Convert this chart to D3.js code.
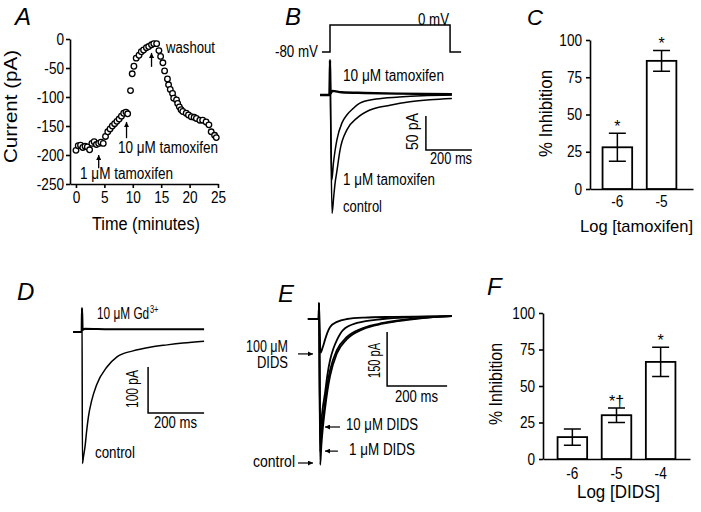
<!DOCTYPE html>
<html><head><meta charset="utf-8">
<script src="https://cdn.jsdelivr.net/npm/d3@7"></script>
<style>
html,body{margin:0;padding:0;background:#fff;}
svg{display:block;}
text{font-family:"Liberation Sans",Arial,Helvetica,sans-serif;fill:#000;}
</style></head><body>
<svg id="fig" width="701" height="512"></svg>
<script>
// ---------------- DATA ----------------
// Panel A: current vs time
const timeMin = [0,0.4,0.8,1.2,1.6,2.0,2.4,2.8,3.2,3.6,4.0,4.4,4.8,5.2,5.6,6.0,6.4,6.8,7.2,7.6,8.0,8.4,8.8,9.1,9.6,9.9,10.2,10.6,11.1,11.5,11.9,12.4,12.8,13.3,13.7,14.2,14.6,14.9,15.3,15.6,16.1,16.3,16.6,17.0,17.2,17.7,17.9,18.2,18.5,18.8,19.4,19.8,20.3,20.8,21.2,21.8,22.3,22.9,23.4,23.8,24.4,24.7];
const currentPA = [-192,-184,-183,-187,-185,-186,-191,-180,-177,-182,-180,-178,-180,-168,-160,-155,-150,-146,-142,-138,-133,-128,-126,-129,-89,-60,-47,-33,-28,-22,-19,-15,-13,-10,-8,-8,-20,-30,-41,-55,-69,-79,-87,-94,-102,-105,-111,-117,-122,-125,-128,-131,-134,-135,-137,-140,-140,-143,-148,-160,-166,-170];
const aXTicks = [0,5,10,15,20,25];
const aYTicks = [0,-50,-100,-150,-200,-250];
// arrows in A: [time, tail pA, head pA]
const aArrows = [[4.0,-223,-200],[8.9,-171,-143],[13.3,-48,-24]];

// Panel B: voltage step [ms, mV] and currents [ms, pA]
const bStep = [[-35,-80],[0,-80],[0,0],[522,0],[522,-80],[570,-80]];
const bControl = [[-43,0],[-2,0],[0,51],[3,-40],[9,-174],[16,-150],[22,-130],[30,-112],[43,-82],[74,-51],[117,-34],[174,-22],[261,-15],[348,-10],[435,-7],[530,-5]];
const bTam1 = [[-43,0],[-2,0],[0,51],[3,-30],[8,-125],[15,-100],[22,-82],[30,-66],[52,-41],[74,-29],[100,-20],[130,-12],[200,-6],[300,-3],[400,-1],[530,0]];
const bTam10 = [[-43,0],[-2,0],[0,51],[2,2],[10,6],[50,4],[150,3],[300,2],[530,1]];

// Panel C
const tamoxLog = ["-6","-5"];
const tamoxInhib = [28,86];
const tamoxErr = [9.4,7];
const tamoxSig = ["*","*"];
const pctTicks = [0,25,50,75,100];

// Panel D
const dControl = [[-32,0],[-1,0],[0,52],[1.5,-286],[5,-272],[11,-248],[17,-213],[23,-184],[35,-148],[52,-115],[89,-76],[125,-54],[182,-41],[243,-33],[304,-28],[361,-24],[436,-20]];
const dGd = [[-32,0],[-1,0],[0,52],[2,5],[10,7],[100,6],[250,6],[436,6]];

// Panel E
const eControl = [[-37,0],[-1,0],[0,44],[4,-405],[8,-350],[12,-310],[20,-250],[28,-200],[37,-158],[60,-95],[93,-56],[147,-28],[213,-13],[303,-2],[380,5],[443,8]];
const eDids1 = [[-37,0],[-1,0],[0,44],[4,-369],[8,-320],[12,-285],[20,-233],[28,-180],[37,-142],[60,-86],[93,-50],[147,-25],[213,-11],[303,0],[380,5],[443,8]];
const eDids10 = [[-37,0],[-1,0],[0,44],[4,-314],[8,-280],[12,-250],[20,-206],[28,-155],[37,-114],[48,-82],[60,-58],[80,-31],[127,-11],[213,0],[300,5],[443,8]];
const eDids100 = [[-37,0],[-1,0],[0,44],[5,-94],[12,-80],[20,-58],[28,-38],[37,-22],[60,-8],[93,0],[150,4],[250,6],[443,8]];
// arrows in E: [tail ms, head ms, pA]
const eArrows = [[-70,-20,-97],[-70,-20,-400],[70,20,-300],[63,20,-367]];

// Panel F
const didsLog = ["-6","-5","-4"];
const didsInhib = [15,30,66.5];
const didsErr = [5.5,5,10];
const didsSig = ["","*\u2020","*"];

// ---------------- HELPERS ----------------
const svg = d3.select("#fig");
svg.append("rect").attr("width",701).attr("height",512).attr("fill","#fff");
const defs = svg.append("defs");
defs.append("marker").attr("id","ah").attr("viewBox","0 0 10 10")
  .attr("refX",10).attr("refY",5).attr("markerWidth",6).attr("markerHeight",5)
  .attr("markerUnits","userSpaceOnUse").attr("orient","auto")
  .append("path").attr("d","M0,0L10,5L0,10z").attr("fill","#000");

function label(str, x, y, o={}) {
  const t = svg.append("text").attr("x",x).attr("y",y)
    .attr("font-size", o.size||16).text(str);
  if (o.len) t.attr("textLength",o.len).attr("lengthAdjust","spacingAndGlyphs");
  if (o.anchor) t.attr("text-anchor",o.anchor);
  if (o.italic) t.attr("font-style","italic");
  return t;
}
function vlabel(str, bx, y0, o={}) {
  const t = svg.append("text").attr("transform",`translate(${bx},${y0}) rotate(-90)`)
    .attr("font-size", o.size||16).text(str);
  if (o.len) t.attr("textLength",o.len).attr("lengthAdjust","spacingAndGlyphs");
  return t;
}
const SX = 0.85;
function styleAxis(g) {
  g.attr("font-size",null).attr("font-family",null);
  g.selectAll("path,line").attr("stroke","#000").attr("stroke-width",1.6);
  g.selectAll("text").attr("font-size",16).attr("fill","#000").each(function(){
    const t = d3.select(this);
    const x = +t.attr("x") || 0;
    t.attr("x", x/SX).attr("transform",`scale(${SX},1)`);
  });
}
const fmt = d => String(d);

// ---------------- PANEL A ----------------
const xA = d3.scaleLinear().domain([-1.05,25]).range([70,218]);
const yA = d3.scaleLinear().domain([-250,0]).range([184,39]);
svg.append("g").attr("transform","translate(0,184)")
  .call(d3.axisBottom(xA).tickValues(aXTicks).tickSize(4).tickSizeOuter(0).tickPadding(4).tickFormat(fmt))
  .call(styleAxis);
svg.append("g").attr("transform","translate(70,0)")
  .call(d3.axisLeft(yA).tickValues(aYTicks).tickSize(4).tickSizeOuter(0).tickPadding(2).tickFormat(fmt))
  .call(styleAxis);
svg.append("g").selectAll("circle").data(timeMin).join("circle")
  .attr("cx",(d)=>xA(d)).attr("cy",(d,i)=>yA(currentPA[i])).attr("r",2.8)
  .attr("fill","#fff").attr("stroke","#000").attr("stroke-width",1.3);
svg.append("g").selectAll("line").data(aArrows).join("line")
  .attr("x1",d=>xA(d[0])).attr("x2",d=>xA(d[0]))
  .attr("y1",d=>yA(d[1])).attr("y2",d=>yA(d[2]))
  .attr("stroke","#000").attr("stroke-width",1.3).attr("marker-end","url(#ah)");
label("A",15,25,{size:24,italic:true});
label("washout",166,53,{len:49});
label("10 \u03BCM tamoxifen",118,153,{len:100});
label("1 \u03BCM tamoxifen",80,179,{len:93});
label("Time (minutes)",92,230,{size:18,len:108});
vlabel("Current (pA)",17,163,{size:18,len:113});

// ---------------- PANEL B ----------------
const xB = d3.scaleLinear().domain([0,200]).range([330,376]);
const yB = d3.scaleLinear().domain([0,50]).range([95,61]);
const vB = d3.scaleLinear().domain([-80,0]).range([52,25]);
const lineB = d3.line().x(d=>xB(d[0])).y(d=>yB(d[1])).curve(d3.curveMonotoneX);
svg.append("path").datum(bStep).attr("d", d3.line().x(d=>xB(d[0])).y(d=>vB(d[1])))
  .attr("fill","none").attr("stroke","#000").attr("stroke-width",1.5);
[[bControl,1.5],[bTam1,1.5],[bTam10,2.4]].forEach(([d,w])=>{
  svg.append("path").datum(d).attr("d",lineB).attr("fill","none").attr("stroke","#000").attr("stroke-width",w);
});
// scale bar B: 50 pA / 200 ms
svg.append("path").attr("d",`M${xB(417)},${yB(-31)}V${yB(-81)}H${xB(617)}`)
  .attr("fill","none").attr("stroke","#000").attr("stroke-width",1.5);
label("B",285,25,{size:24,italic:true});
label("-80 mV",275,57,{len:43});
label("0 mV",418,25,{len:31});
label("10 \u03BCM tamoxifen",343,81,{len:101});
label("1 \u03BCM tamoxifen",343,185,{len:92});
label("control",343,212,{len:39});
vlabel("50 pA",418,150,{len:37});
label("200 ms",430,164,{len:42});

// ---------------- BAR PANEL helper ----------------
function barPanel(cats, vals, errs, sigs, xr, yr, align, labPad) {
  const x = d3.scaleBand().domain(cats).range(xr).paddingInner(0.33).paddingOuter(0.33).align(align);
  const y = d3.scaleLinear().domain([0,100]).range(yr);
  svg.append("g").attr("transform",`translate(0,${yr[0]})`)
    .call(d3.axisBottom(x).tickSize(0).tickPadding(labPad))
    .call(styleAxis);
  svg.append("g").attr("transform",`translate(${xr[0]},0)`)
    .call(d3.axisLeft(y).tickValues(pctTicks).tickSize(4).tickSizeOuter(0).tickPadding(4).tickFormat(fmt))
    .call(styleAxis);
  const g = svg.append("g");
  g.selectAll("rect").data(cats).join("rect")
    .attr("x",d=>x(d)).attr("width",x.bandwidth())
    .attr("y",(d,i)=>y(vals[i])).attr("height",(d,i)=>y(0)-y(vals[i]))
    .attr("fill","#fff").attr("stroke","#000").attr("stroke-width",1.8);
  cats.forEach((c,i)=>{
    const cx = x(c)+x.bandwidth()/2;
    const t = y(vals[i]+errs[i]), b = y(vals[i]-errs[i]);
    g.append("path").attr("d",`M${cx},${t}V${b}M${cx-8.5},${t}H${cx+8.5}M${cx-8.5},${b}H${cx+8.5}`)
      .attr("fill","none").attr("stroke","#000").attr("stroke-width",1.5);
    if (sigs[i]) g.append("text").attr("x",cx).attr("y",t-1).attr("text-anchor","middle")
      .attr("font-size",16).text(sigs[i]);
  });
}

// ---------------- PANEL C ----------------
barPanel(tamoxLog,tamoxInhib,tamoxErr,tamoxSig,[590,693],[189,40],0.43,7);
label("C",527,25,{size:22,italic:true});
vlabel("% Inhibition",552,157,{size:18,len:87});
label("Log [tamoxifen]",580,232,{size:17,len:113});

// ---------------- PANEL D ----------------
const xD = d3.scaleLinear().domain([0,200]).range([82,138]);
const yD = d3.scaleLinear().domain([0,100]).range([332,286]);
const lineD = d3.line().x(d=>xD(d[0])).y(d=>yD(d[1])).curve(d3.curveMonotoneX);
[[dControl,1.5],[dGd,2.2]].forEach(([d,w])=>{
  svg.append("path").datum(d).attr("d",lineD).attr("fill","none").attr("stroke","#000").attr("stroke-width",w);
});
svg.append("path").attr("d",`M${xD(236)},${yD(-76)}V${yD(-176)}H${xD(436)}`)
  .attr("fill","none").attr("stroke","#000").attr("stroke-width",1.5);
label("D",17,300,{size:24,italic:true});
{
  const t = svg.append("text").attr("transform","translate(97,319) scale(0.74,1)").attr("font-size",16);
  t.append("tspan").text("10 \u03BCM Gd");
  t.append("tspan").text("3+").attr("font-size",10).attr("dy",-6).attr("dx",1);
}
vlabel("100 pA",138,408,{len:38});
label("200 ms",154,428,{len:43});
label("control",95,458,{len:40});

// ---------------- PANEL E ----------------
const xE = d3.scaleLinear().domain([0,200]).range([319,379]);
const yE = d3.scaleLinear().domain([0,150]).range([319,265]);
const lineE = d3.line().x(d=>xE(d[0])).y(d=>yE(d[1])).curve(d3.curveMonotoneX);
[eControl,eDids1,eDids10,eDids100].forEach(d=>{
  svg.append("path").datum(d).attr("d",lineE).attr("fill","none").attr("stroke","#000").attr("stroke-width",1.8);
});
svg.append("path").attr("d",`M${xE(227)},${yE(-36)}V${yE(-186)}H${xE(427)}`)
  .attr("fill","none").attr("stroke","#000").attr("stroke-width",1.5);
svg.append("g").selectAll("line").data(eArrows).join("line")
  .attr("x1",d=>xE(d[0])).attr("x2",d=>xE(d[1]))
  .attr("y1",d=>yE(d[2])).attr("y2",d=>yE(d[2]))
  .attr("stroke","#000").attr("stroke-width",1.2).attr("marker-end","url(#ah)");
label("E",278,302,{size:24,italic:true});
label("100 \u03BCM",288,352,{len:42,anchor:"end"});
label("DIDS",257,368,{len:31});
label("control",253,467,{len:42});
label("10 \u03BCM DIDS",346,430,{len:72});
label("1 \u03BCM DIDS",349,455,{len:66});
vlabel("150 pA",380,378,{len:35});
label("200 ms",395,402,{len:43});

// ---------------- PANEL F ----------------
barPanel(didsLog,didsInhib,didsErr,didsSig,[543,690],[459,313],0.5,9);
label("F",487,295,{size:24,italic:true});
vlabel("% Inhibition",502,425,{size:18,len:82});
label("Log [DIDS]",577,498,{size:18,len:83});
</script>
</body></html>
